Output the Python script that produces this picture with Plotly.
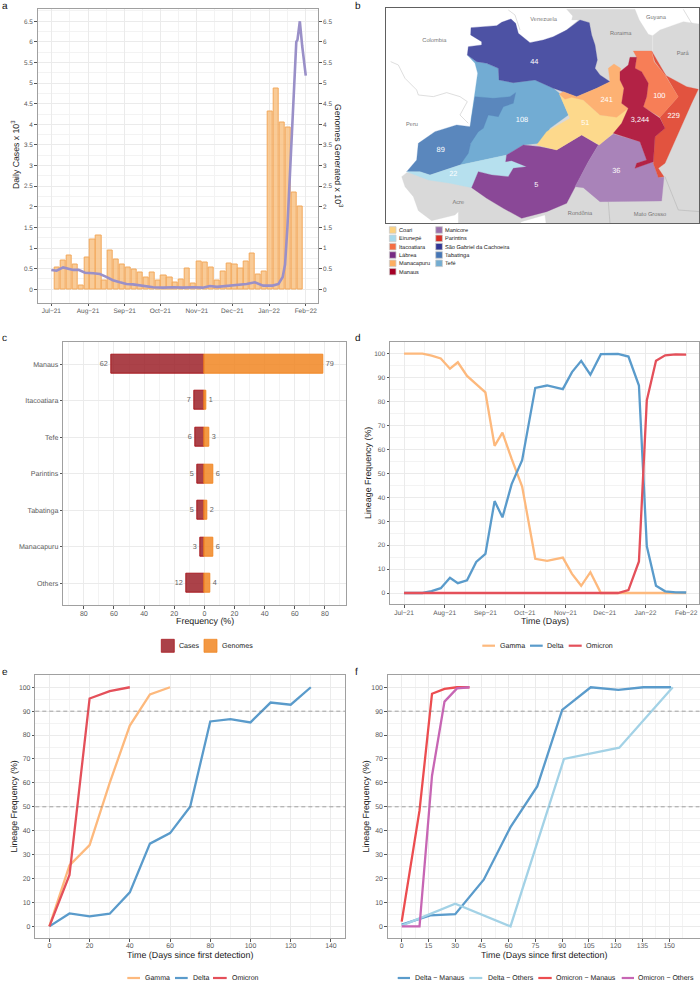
import plotly.graph_objects as go

W, H = 700, 982
MONTH_DAYS = [0, 31, 62, 92, 123, 153, 184, 215]
MONTH_LABELS = ["Jul−21", "Aug−21", "Sep−21", "Oct−21", "Nov−21", "Dec−21", "Jan−22", "Feb−22"]
MONTH_MINOR = [15.5, 46.5, 77, 107.5, 138, 168.5, 199.5]

# panel a
case_days = [5, 10, 15, 20, 25, 30, 35, 40, 45, 50, 55, 60, 65, 70, 75, 80, 85, 90, 95, 100, 105,
             110, 115, 120, 125, 130, 135, 140, 145, 150, 155, 160, 165, 170, 175, 180, 185, 190, 195, 200, 205, 210]
daily_cases = [0.53, 0.69, 0.82, 0.60, 0.09, 0.78, 1.21, 1.31, 0.22, 0.93, 0.73, 0.60, 0.54, 0.47, 0.41, 0.28,
               0.41, 0.22, 0.33, 0.29, 0.17, 0.24, 0.50, 0.14, 0.68, 0.66, 0.52, 0.22, 0.44, 0.62, 0.59, 0.50,
               0.68, 0.87, 0.35, 0.43, 4.32, 4.88, 4.05, 3.93, 2.35, 2.00]
genome_days = [0, 4.5, 10, 18.5, 23, 28.5, 35.5, 41, 46.5, 52, 58, 63.5, 69, 77.5, 86, 94.5, 103, 111, 120, 128,
               134, 140, 148, 157, 165, 172, 179, 187, 192, 195.5, 197.5, 199.5, 201.5, 204, 205.5, 207, 208, 210, 212, 215]
genomes_generated = [0.47, 0.45, 0.53, 0.47, 0.47, 0.40, 0.39, 0.37, 0.30, 0.22, 0.17, 0.13, 0.12, 0.08, 0.05, 0.04,
                     0.05, 0.04, 0.05, 0.04, 0.08, 0.06, 0.08, 0.11, 0.13, 0.17, 0.09, 0.09, 0.13, 0.30, 0.6, 1.5,
                     2.8, 4.2, 5.4, 6.0, 6.05, 6.5, 5.9, 5.18]
a_ticks = [0, 0.5, 1, 1.5, 2, 2.5, 3, 3.5, 4, 4.5, 5, 5.5, 6, 6.5]
a_tick_labels = ["0", "0.5", "1", "1.5", "2", "2.5", "3", "3.5", "4", "4.5", "5", "5.5", "6", "6.5"]
a_minor = [0.25, 0.75, 1.25, 1.75, 2.25, 2.75, 3.25, 3.75, 4.25, 4.75, 5.25, 5.75, 6.25, 6.75]

# panel b : region outlines and counts, in map units
grey_land = [(650, 28), (855, 28), (868, 60), (895, 103), (908, 107), (930, 90), (1000, 65), (1048, 72), (1048, 670),
             (588, 670), (585, 645), (550, 655), (515, 665), (510, 670), (325, 670), (325, 635), (315, 645), (245, 662),
             (205, 632), (190, 590), (165, 560), (155, 530), (170, 518), (300, 500), (400, 300), (685, 60), (665, 60), (668, 48)]
sao_gabriel = [(363, 83), (405, 80), (440, 77), (455, 67), (483, 57), (497, 70), (505, 100), (540, 128), (580, 120),
               (610, 110), (650, 90), (690, 60), (718, 68), (725, 105), (735, 135), (742, 180), (735, 205), (750, 225),
               (780, 245), (740, 265), (680, 290), (640, 275), (610, 265), (555, 240), (490, 248), (447, 240), (445, 205),
               (410, 190), (380, 185), (352, 165), (355, 140), (395, 135), (395, 125), (362, 105)]
tefe = [(352, 165), (380, 185), (410, 190), (445, 205), (447, 240), (490, 248), (555, 240), (610, 265), (628, 280),
        (640, 310), (655, 345), (600, 385), (570, 430), (520, 435), (470, 465), (400, 480), (330, 495), (362, 430),
        (363, 360), (373, 290), (383, 220), (375, 190)]
tabatinga = [(375, 290), (430, 295), (480, 290), (497, 278), (490, 310), (460, 320), (445, 350), (415, 345), (400, 385),
             (385, 395), (362, 430), (355, 460), (330, 495), (240, 525), (210, 515), (170, 515), (200, 480), (205, 430),
             (255, 395), (320, 375), (360, 380)]
eirunepe = [(170, 515), (210, 515), (240, 525), (330, 495), (400, 480), (470, 465), (467, 485), (485, 482), (530, 500),
            (490, 505), (475, 530), (425, 525), (385, 515), (365, 563), (300, 550), (235, 540)]
labrea = [(365, 563), (385, 515), (425, 525), (475, 530), (490, 505), (530, 500), (485, 482), (467, 485), (470, 465),
          (520, 435), (570, 440), (620, 450), (695, 405), (745, 435), (715, 485), (675, 560), (650, 610), (590, 635),
          (515, 655), (460, 625), (410, 595)]
coari = [(628, 282), (645, 298), (665, 290), (700, 300), (750, 345), (800, 350), (835, 325), (815, 370), (790, 400),
         (748, 435), (695, 405), (620, 450), (560, 435), (590, 395), (660, 355), (640, 310)]
manacapuru = [(640, 275), (680, 290), (740, 265), (780, 245), (775, 205), (792, 192), (812, 205), (810, 240), (822, 265),
              (815, 310), (835, 325), (800, 352), (750, 345), (700, 300), (665, 292), (645, 298), (628, 282)]
manaus = [(840, 172), (860, 172), (855, 205), (875, 215), (895, 250), (890, 290), (880, 320), (930, 355), (945, 385),
          (915, 410), (910, 485), (855, 505), (860, 490), (890, 480), (870, 425), (790, 400), (815, 370), (835, 325),
          (815, 310), (822, 265), (810, 240), (810, 215), (835, 195)]
itacoatiara = [(850, 153), (905, 153), (912, 185), (945, 225), (985, 290), (930, 352), (880, 320), (890, 290), (895, 250),
               (875, 215), (855, 205), (860, 172)]
parintins = [(905, 153), (915, 185), (945, 225), (975, 240), (1010, 260), (1045, 268), (1025, 310), (985, 400), (945, 490),
             (925, 505), (942, 530), (925, 532), (910, 490), (915, 410), (945, 385), (930, 352), (985, 290)]
manicore = [(745, 435), (790, 402), (870, 425), (890, 480), (860, 490), (855, 505), (908, 485), (925, 532), (942, 532),
            (935, 603), (750, 605), (700, 563), (675, 560), (715, 485)]
border_colombia = [(122, 185), (145, 195), (165, 235), (200, 270), (205, 285), (250, 290), (290, 278), (330, 290),
                   (352, 305), (330, 345), (355, 370)]
border_venezuela = [(475, 30), (495, 45), (510, 90)]
border_guyana = [(1000, 28), (1025, 70)]
border_south_a = [(775, 605), (780, 670)]
border_south_b = [(945, 530), (985, 630), (1048, 635)]
border_para = [(908, 107), (908, 170)]

region_label_x = [553, 516, 272, 310, 559, 706, 770, 870, 928, 971, 799]
region_label_y = [187, 362, 451, 524, 557, 371, 301, 362, 288, 348, 515]
region_counts = ["44", "108", "89", "22", "5", "51", "241", "3,244", "100", "229", "36"]
place_x = [581, 253, 186, 918, 812, 998, 325, 690, 900]
place_y = [59, 122, 373, 53, 102, 162, 608, 642, 643]
place_names = ["Venezuela", "Colombia", "Peru", "Guyana", "Roraima", "Pará", "Acre", "Rondônia", "Mato Grosso"]
map_names_col1 = ["Coari", "Eirunepé", "Itacoatiara", "Lábrea", "Manacapuru", "Manaus"]
map_colors_col1 = ["#fdd27f", "#a6d9ec", "#f46d43", "#762a83", "#fdae61", "#a50026"]
map_names_col2 = ["Manicore", "Parintins", "São Gabriel da Cachoeira", "Tabatinga", "Tefé"]
map_colors_col2 = ["#9970ab", "#d73027", "#313695", "#4575b4", "#74add1"]

# panel c
cities = ["Manaus", "Itacoatiara", "Tefe", "Parintins", "Tabatinga", "Manacapuru", "Others"]
cases_pct = [62, 7, 6, 5, 5, 3, 12]
genomes_pct = [79, 1, 3, 6, 2, 6, 4]
freq_ticks = [-80, -60, -40, -20, 0, 20, 40, 60, 80]
freq_labels = ["80", "60", "40", "20", "0", "20", "40", "60", "80"]
freq_minor = [-90, -70, -50, -30, -10, 10, 30, 50, 70, 90]

# panel d
d_days = [0, 14, 21, 28, 35, 41, 48, 55, 62, 69, 75, 82, 90, 100, 109, 121, 128, 135, 142, 150, 163, 171, 179, 185, 192, 199, 207, 215]
d_gamma = [100, 100, 99.2, 98, 93.7, 96.4, 90.7, 87.2, 83.8, 61.5, 67, 56, 44.5, 14.3, 13.4, 14.8, 8, 3, 8.7, 0, 0, 0, 0, 0, 0, 0, 0, 0]
d_delta = [0, 0, 0.8, 2, 6.4, 4.1, 5.3, 13, 16.3, 38.4, 31.6, 45.5, 55.5, 85.7, 86.7, 85.2, 92.3, 97, 91.2, 99.8, 99.9, 98.8, 86.7, 19.5, 3, 0.7, 0.3, 0.2]
d_omicron = [0, 0, 0, 0, 0, 0, 0, 0, 0, 0, 0, 0, 0, 0, 0, 0, 0, 0, 0, 0, 0, 1.2, 13.2, 80.5, 97, 99.3, 99.7, 99.6]
pct_ticks = [0, 10, 20, 30, 40, 50, 60, 70, 80, 90, 100]
pct_minor = [5, 15, 25, 35, 45, 55, 65, 75, 85, 95, 105]

# panel e
e_gamma_t = [0, 10, 20, 30, 40, 50, 60]
e_gamma = [0, 25.5, 34, 60, 84, 97, 100]
e_delta_t = [0, 10, 20, 30, 40, 50, 60, 70, 80, 90, 100, 110, 120, 130]
e_delta = [0, 5.4, 4.2, 5.3, 14.2, 34.6, 39, 50, 85.7, 86.7, 85.3, 93.6, 92.7, 100]
e_omicron_t = [0, 10, 20, 30, 40]
e_omicron = [0, 21.5, 95.3, 98.4, 100]
e_ticks = [0, 20, 40, 60, 80, 100, 120, 140]
e_minor = [10, 30, 50, 70, 90, 110, 130]

# panel f
f_dm_t = [0, 16, 30, 46, 61, 76, 90, 106, 121.5, 135.5, 151]
f_dm = [0.7, 4.6, 5.1, 19.5, 41.5, 58.5, 90.5, 100, 98.9, 100, 100]
f_do_t = [0, 30, 61, 91, 122, 152]
f_do = [0.3, 9.5, 0, 70, 74.7, 100]
f_om_t = [0, 10, 17, 24, 31, 38]
f_om = [2, 48.5, 97.3, 99.3, 100, 100]
f_oo_t = [0, 10, 17, 24, 31, 38]
f_oo = [0, 0, 63, 94, 99.5, 100]
f_ticks = [0, 15, 30, 45, 60, 75, 90, 105, 120, 135, 150]
f_minor = [7.5, 22.5, 37.5, 52.5, 67.5, 82.5, 97.5, 112.5, 127.5, 142.5, 157.5]
threshold_levels = [50, 90]

# styles
C_GAMMA, C_DELTA, C_OMICRON = "#fdb97d", "#5a9bcb", "#e4505a"
C_DO, C_OM, C_OO = "#a3d2e6", "#ec4d50", "#c766b4"
TICK = "#5a5a5a"
FONT = "Liberation Sans"


def px(x):
    return x / W


def py(y):
    return 1 - y / H


def dom_x(a, b):
    return [px(a), px(b)]


def dom_y(top, bottom):
    return [py(bottom), py(top)]


def axis(size=7.0, **kw):
    d = dict(showline=True, mirror=True, linecolor="#a0a0a0", linewidth=1, showgrid=True, gridcolor="#ebebeb",
             gridwidth=0.9, zeroline=False, ticks="outside", ticklen=2.5, tickwidth=0.7, tickcolor="#555555",
             tickfont=dict(family=FONT, size=size, color=TICK), fixedrange=True, automargin=False)
    d.update(kw)
    return d


def minor(vals):
    return dict(tickvals=vals, showgrid=True, gridcolor="#f3f3f3", gridwidth=0.5, ticks="")


fig = go.Figure()
ann = []
shp = []


def text(x, y, s, size=7.2, color="#222222", anchor="left", angle=0):
    ann.append(dict(x=px(x), y=py(y), xref="paper", yref="paper", text=s, showarrow=False, xanchor=anchor, yanchor="middle",
                    textangle=angle, font=dict(family=FONT, size=size, color=color), borderpad=0, borderwidth=0))


def key_line(x0, x1, y, color):
    shp.append(dict(type="line", xref="paper", yref="paper", x0=px(x0), x1=px(x1), y0=py(y), y1=py(y),
                    line=dict(color=color, width=2.2)))


def key_box(x0, x1, y0, y1, fill, line):
    shp.append(dict(type="rect", xref="paper", yref="paper", x0=px(x0), x1=px(x1), y0=py(y0), y1=py(y1),
                    fillcolor=fill, line=dict(color=line, width=0.8)))


def line(x, y, color, xa, ya, width=2.3):
    fig.add_trace(go.Scatter(x=x, y=y, mode="lines", line=dict(color=color, width=width), xaxis=xa, yaxis=ya))


# ---- a
fig.add_trace(go.Bar(x=case_days, y=daily_cases, width=4.4, marker=dict(color="rgba(247,190,125,0.8)",
                     line=dict(color="#f2a95c", width=1)), xaxis="x", yaxis="y"))
line(genome_days, genomes_generated, "#9a90c8", "x", "y2", 2.6)

# ---- b
def poly(points, color):
    fig.add_trace(go.Scatter(x=[p[0] for p in points] + [points[0][0]], y=[p[1] for p in points] + [points[0][1]],
                             mode="lines", fill="toself", fillcolor=color, line=dict(color=color, width=0.3),
                             xaxis="x2", yaxis="y3"))


def thin(points, color="#c8c8c8"):
    fig.add_trace(go.Scatter(x=[p[0] for p in points], y=[p[1] for p in points], mode="lines",
                             line=dict(color=color, width=0.6), xaxis="x2", yaxis="y3"))


poly(grey_land, "#d9d9d9")
thin(border_colombia)
thin(border_venezuela)
thin(border_guyana)
thin(border_south_a, "#b5b5b5")
thin(border_south_b, "#b5b5b5")
thin(border_para, "#eeeeee")
for pts, col in [(tefe, "#72acd3"), (tabatinga, "#5a87bd"), (eirunepe, "#b6e0ee"), (sao_gabriel, "#4d52a4"),
                 (labrea, "#8a4897"), (manicore, "#a983b9"), (coari, "#fdd98c"), (manacapuru, "#fdb173"),
                 (parintins, "#e2533f"), (itacoatiara, "#f77e57"), (manaus, "#b32245")]:
    poly(pts, col)
fig.add_trace(go.Scatter(x=place_x, y=place_y, text=place_names, mode="text", xaxis="x2", yaxis="y3",
                         textfont=dict(family=FONT, size=5.7, color="#777777")))
fig.add_trace(go.Scatter(x=region_label_x, y=region_label_y, text=region_counts, mode="text", xaxis="x2", yaxis="y3",
                         textfont=dict(family=FONT, size=7.4, color="#ffffff")))

# ---- c
fig.add_trace(go.Bar(y=cities, x=[-v for v in cases_pct], orientation="h", width=0.52, text=cases_pct, textposition="outside",
                     marker=dict(color="rgba(155,30,38,0.84)", line=dict(color="rgba(165,15,21,0.9)", width=1)),
                     textfont=dict(family=FONT, size=7.2, color="#666666"), cliponaxis=False, xaxis="x3", yaxis="y4"))
fig.add_trace(go.Bar(y=cities, x=genomes_pct, orientation="h", width=0.52, text=genomes_pct, textposition="outside",
                     marker=dict(color="rgba(241,134,34,0.85)", line=dict(color="rgba(241,134,34,0.95)", width=1)),
                     textfont=dict(family=FONT, size=7.2, color="#666666"), cliponaxis=False, xaxis="x3", yaxis="y4"))

# ---- d
line(d_days, d_gamma, C_GAMMA, "x4", "y5")
line(d_days, d_delta, C_DELTA, "x4", "y5")
line(d_days, d_omicron, C_OMICRON, "x4", "y5")

# ---- e
line(e_gamma_t, e_gamma, C_GAMMA, "x5", "y6")
line(e_delta_t, e_delta, C_DELTA, "x5", "y6")
line(e_omicron_t, e_omicron, C_OMICRON, "x5", "y6")

# ---- f
line(f_dm_t, f_dm, C_DELTA, "x6", "y7")
line(f_do_t, f_do, C_DO, "x6", "y7")
line(f_om_t, f_om, C_OM, "x6", "y7")
line(f_oo_t, f_oo, C_OO, "x6", "y7")

for xa, ya in [("x5", "y6"), ("x6", "y7")]:
    for lev in threshold_levels:
        shp.append(dict(type="line", xref=f"{xa} domain", x0=0, x1=1, yref=ya, y0=lev, y1=lev,
                        line=dict(color="rgba(110,110,110,0.6)", width=1, dash="4px,3px")))

fig.update_layout(
    width=W, height=H, margin=dict(l=0, r=0, t=0, b=0), paper_bgcolor="white", plot_bgcolor="white",
    showlegend=False, hovermode=False, barmode="overlay", bargap=0,
    font=dict(family=FONT),
    # a
    xaxis=axis(6.5, domain=dom_x(37.7, 318.3), range=[-11.5, 225.6], tickvals=MONTH_DAYS, ticktext=MONTH_LABELS,
               minor=minor(MONTH_MINOR), anchor="y", ticklabelstandoff=-1),
    yaxis=axis(6.4, domain=dom_y(8.5, 302.7), range=[-0.325, 6.81], tickvals=a_ticks, ticktext=a_tick_labels,
               minor=minor(a_minor), anchor="x"),
    yaxis2=axis(6.4, domain=dom_y(8.5, 302.7), range=[-0.325, 6.81], tickvals=a_ticks, ticktext=a_tick_labels,
                overlaying="y", side="right", anchor="x", showgrid=False, mirror=False),
    # b
    xaxis2=dict(domain=dom_x(386, 699.3), range=[108, 1048], showticklabels=False, ticks="", showgrid=False,
                zeroline=False, showline=True, mirror=True, linecolor="#606060", linewidth=1, fixedrange=True, anchor="y3"),
    yaxis3=dict(domain=dom_y(8.3, 223.3), range=[670, 25], showticklabels=False, ticks="", showgrid=False,
                zeroline=False, showline=True, mirror=True, linecolor="#606060", linewidth=1, fixedrange=True, anchor="x2"),
    # c
    xaxis3=axis(7.0, domain=dom_x(63.3, 345.7), range=[-93.6, 93.8], tickvals=freq_ticks, ticktext=freq_labels,
                minor=minor(freq_minor), anchor="y4", ticklabelstandoff=-1),
    yaxis4=axis(7.1, domain=dom_y(341.7, 605), range=[6.59, -0.61], type="category", categoryorder="array",
                categoryarray=cities, tickvals=cities, anchor="x3"),
    # d
    xaxis4=axis(6.6, domain=dom_x(390, 699.3), range=[-10.7, 225], tickvals=MONTH_DAYS, ticktext=MONTH_LABELS,
                minor=minor(MONTH_MINOR), anchor="y5", ticklabelstandoff=-1),
    yaxis5=axis(6.6, domain=dom_y(341.7, 604.3), range=[-4.72, 105], tickvals=pct_ticks, minor=minor(pct_minor), anchor="x4"),
    # e
    xaxis5=axis(6.9, domain=dom_x(35.3, 345), range=[-7, 147], tickvals=e_ticks, minor=minor(e_minor), anchor="y6",
                ticklabelstandoff=-2),
    yaxis6=axis(6.9, domain=dom_y(675.3, 938.3), range=[-5, 105], tickvals=pct_ticks, minor=minor(pct_minor), anchor="x5"),
    # f
    xaxis6=axis(6.9, domain=dom_x(387.7, 699.5), range=[-7.85, 167], tickvals=f_ticks, minor=minor(f_minor), anchor="y7",
                ticklabelstandoff=-2),
    yaxis7=axis(6.9, domain=dom_y(675.3, 938.3), range=[-5, 105], tickvals=pct_ticks, minor=minor(pct_minor), anchor="x6"),
)

# panel letters
for lx, ly, s in [(2, 5, "a"), (355, 5, "b"), (2, 337, "c"), (355, 337, "d"), (2, 671, "e"), (355, 671, "f")]:
    text(lx, ly, s, size=10, color="#111111")

# axis titles
TITLE = 8.9
text(15, 155, "Daily Cases x 10<sup>3</sup>", size=8.7, angle=-90, anchor="center")
text(339, 156, "Genomes Generated x 10<sup>3</sup>", size=8.7, angle=90, anchor="center")
text(204.5, 621, "Frequency (%)", size=TITLE, anchor="center")
text(545, 621, "Time (Days)", size=TITLE, anchor="center")
text(368, 473, "Lineage Frequency (%)", size=TITLE, angle=-90, anchor="center")
text(190, 955, "Time (Days since first detection)", size=TITLE, anchor="center")
text(13, 806.5, "Lineage Frequency (%)", size=TITLE, angle=-90, anchor="center")
text(544, 955, "Time (Days since first detection)", size=TITLE, anchor="center")
text(365, 806.5, "Lineage Frequency (%)", size=TITLE, angle=-90, anchor="center")

# map legend
for i, (name, col) in enumerate(zip(map_names_col1, map_colors_col1)):
    yc = 230 + i * 8.33
    key_box(389.4, 396, yc - 3.3, yc + 3.3, col, "#cccccc")
    text(398.7, yc, name, size=5.6, color="#222222")
for i, (name, col) in enumerate(zip(map_names_col2, map_colors_col2)):
    yc = 230 + i * 8.33
    key_box(435.7, 442.4, yc - 3.3, yc + 3.3, col, "#cccccc")
    text(445, yc, name, size=5.6, color="#222222")

# legend c
key_box(161.3, 174.3, 639.3, 652.3, "rgba(155,30,38,0.84)", "rgba(165,15,21,0.9)")
text(179, 646, "Cases", size=7.1)
key_box(204, 217, 639.3, 652.3, "rgba(241,134,34,0.85)", "rgba(241,134,34,0.95)")
text(221.7, 646, "Genomes", size=7.1)

# legend d
for x0, x1, xt, col, nm in [(482.3, 495, 500, C_GAMMA, "Gamma"), (530, 542.7, 547.3, C_DELTA, "Delta"),
                            (568.7, 581.7, 586, C_OMICRON, "Omicron")]:
    key_line(x0, x1, 645.7, col)
    text(xt, 645.7, nm, size=7.1)

# legend e
for x0, x1, xt, col, nm in [(127.3, 140, 145, C_GAMMA, "Gamma"), (175, 187.7, 192.7, C_DELTA, "Delta"),
                            (213, 226.7, 231.7, C_OMICRON, "Omicron")]:
    key_line(x0, x1, 978, col)
    text(xt, 977.5, nm, size=7.0)

# legend f
for x0, x1, xt, col, nm in [(397.7, 410, 415.3, C_DELTA, "Delta − Manaus"), (469.3, 482.3, 487.7, C_DO, "Delta − Others"),
                            (538.3, 551.7, 556, C_OM, "Omicron − Manaus"), (621.7, 634, 638.3, C_OO, "Omicron − Others")]:
    key_line(x0, x1, 978, col)
    text(xt, 977.5, nm, size=7.0)

fig.update_layout(annotations=ann, shapes=shp)
fig.write_html("out.html", post_script="document.body.style.margin='0';document.documentElement.style.margin='0';"
               "document.body.style.textRendering='geometricPrecision';document.body.style.opacity='0.999';",
               config=dict(displayModeBar=False))
